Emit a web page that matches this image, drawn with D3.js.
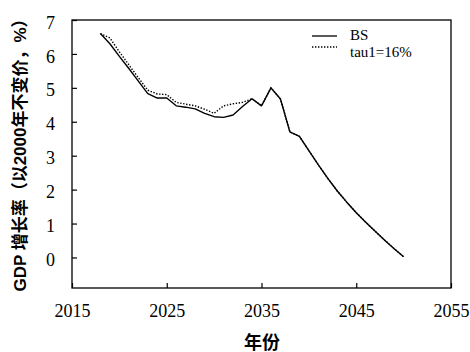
<!DOCTYPE html>
<html>
<head>
<meta charset="utf-8">
<script src="https://cdn.jsdelivr.net/npm/d3@7"></script>
<style>
  html, body { margin: 0; padding: 0; background: #fff; }
  svg { display: block; }
</style>
</head>
<body>
<svg id="chart" width="470" height="352"></svg>
<script>
// Years covered by both scenarios
const years = [2018, 2019, 2020, 2021, 2022, 2023, 2024, 2025, 2026, 2027, 2028, 2029,
  2030, 2031, 2032, 2033, 2034, 2035, 2036, 2037, 2038, 2039, 2040, 2041, 2042, 2043,
  2044, 2045, 2046, 2047, 2048, 2049, 2050];

// Baseline scenario (BS), GDP growth %
const bsValues = [6.6, 6.3, 5.93, 5.57, 5.2, 4.83, 4.7, 4.7, 4.47, 4.43, 4.38, 4.25,
  4.15, 4.13, 4.2, 4.45, 4.68, 4.47, 5.0, 4.67, 3.7, 3.57, 3.15, 2.73, 2.33, 1.96,
  1.63, 1.32, 1.04, 0.77, 0.51, 0.26, 0.02];

// Scenario tau1 = 16%, GDP growth %
const tauValues = [6.6, 6.47, 6.06, 5.68, 5.3, 4.93, 4.82, 4.8, 4.57, 4.52, 4.47, 4.37,
  4.25, 4.47, 4.53, 4.57, 4.68, 4.47, 5.0, 4.67, 3.7, 3.57, 3.15, 2.73, 2.33, 1.96,
  1.63, 1.32, 1.04, 0.77, 0.51, 0.26, 0.02];

const xTicks = [2015, 2025, 2035, 2045, 2055];
const yTicks = [0, 1, 2, 3, 4, 5, 6, 7];
const seriesNames = ["BS", "tau1=16%"];

const SERIF = "'Liberation Serif', 'Times New Roman', Times, 'DejaVu Serif', serif";
const TITLE = "'Liberation Sans', Arial, 'Noto Sans CJK SC', sans-serif";

const svg = d3.select("#chart");
const plot = { left: 72, top: 20, right: 451, bottom: 288 };

const x = d3.scaleLinear().domain([2015, 2055]).range([plot.left, plot.right]);
const y = d3.scaleLinear().domain([-0.9, 7]).range([plot.bottom, plot.top]);

// Frame around the plotting area
svg.append("rect")
  .attr("x", plot.left).attr("y", plot.top)
  .attr("width", plot.right - plot.left).attr("height", plot.bottom - plot.top)
  .attr("fill", "none").attr("stroke", "#000").attr("stroke-width", 1.3);

// Bottom axis: inward ticks
const xAxis = d3.axisBottom(x).tickValues(xTicks).tickFormat(d3.format("d"))
  .tickSizeInner(-5).tickSizeOuter(0).tickPadding(16);
const gx = svg.append("g").attr("transform", `translate(0,${plot.bottom})`).call(xAxis)
  .attr("font-family", SERIF).attr("font-size", 18);
gx.select(".domain").remove();
gx.selectAll(".tick line").attr("stroke", "#000").attr("stroke-width", 1.2);
gx.selectAll(".tick text").attr("fill", "#000");

// Left axis: inward ticks
const yAxis = d3.axisLeft(y).tickValues(yTicks).tickFormat(d3.format("d"))
  .tickSizeInner(-5).tickSizeOuter(0).tickPadding(17);
const gy = svg.append("g").attr("transform", `translate(${plot.left},0)`).call(yAxis)
  .attr("font-family", SERIF).attr("font-size", 18);
gy.select(".domain").remove();
gy.selectAll(".tick line").attr("stroke", "#000").attr("stroke-width", 1.2);
gy.selectAll(".tick text").attr("fill", "#000").attr("dy", "0.45em");

// Series lines
const line = d3.line().x((d, i) => x(years[i])).y(d => y(d));

svg.append("path").datum(tauValues)
  .attr("d", line).attr("fill", "none").attr("stroke", "#000")
  .attr("stroke-width", 1.4).attr("stroke-dasharray", "1.4,1.6");

svg.append("path").datum(bsValues)
  .attr("d", line).attr("fill", "none").attr("stroke", "#000")
  .attr("stroke-width", 1.4).attr("stroke-linejoin", "round");

// Legend
const legend = svg.append("g").attr("font-family", SERIF).attr("font-size", 15);
const legendRows = [
  { name: seriesNames[0], dash: null, ly: 36, ty: 40 },
  { name: seriesNames[1], dash: "1.4,1.6", ly: 47, ty: 57 }
];
legendRows.forEach(r => {
  legend.append("line")
    .attr("x1", 312).attr("x2", 337).attr("y1", r.ly).attr("y2", r.ly)
    .attr("stroke", "#000").attr("stroke-width", 1.3)
    .attr("stroke-dasharray", r.dash);
  legend.append("text").attr("fill", "#000")
    .attr("x", 350).attr("y", r.ty).text(r.name);
});

// Axis titles
svg.append("text").attr("font-family", TITLE).attr("font-weight", "bold").attr("font-size", 18)
  .attr("x", 262).attr("y", 349).attr("text-anchor", "middle").text("年份");

svg.append("text").attr("font-family", TITLE).attr("font-weight", "bold").attr("font-size", 17)
  .attr("transform", "translate(26,151) rotate(-90)")
  .attr("text-anchor", "middle").text("GDP 增长率（以2000年不变价，%）");
</script>
</body>
</html>
